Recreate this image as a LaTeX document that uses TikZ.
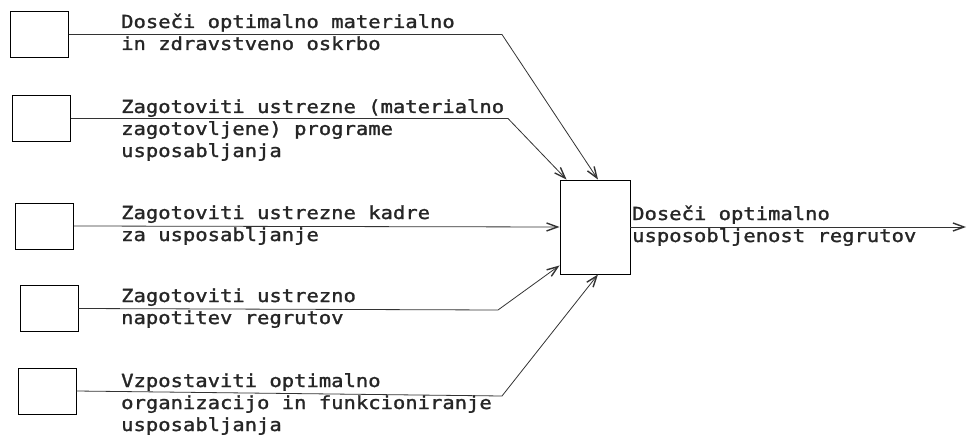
\documentclass[tikz,border=0pt]{standalone}
\usepackage{fontspec}
\newfontfamily\plotfont[FakeStretch=1.14, FakeBold=1.5]{DejaVu Sans Mono}
\usetikzlibrary{arrows.meta,calc}

\tikzset{
	box/.style={draw, line width=0.9pt, minimum width=58pt, minimum height=46pt, inner sep=0pt},
	lbl/.style={anchor=base west, align=left, inner sep=0pt, font=\plotfont\fontsize{18}{22}\selectfont, text=black!85},
	feed/.style={line width=0.8pt, draw=black!80, -{Straight Barb[length=11pt,width=8pt,line width=1.4pt]}}
}

\begin{document}
\begin{tikzpicture}[x=1pt, y=-1pt]
				\useasboundingbox (0,0) rectangle (967,436);
				\node[box] (b1) at (39.5,34.5) {};
				\node[box] (b2) at (41.5,118.5) {};
				\node[box] (b3) at (44.5,226) {};
				\node[box] (b4) at (49,308.5) {};
				\node[box] (b5) at (47,391) {};
				\node[box, minimum width=70pt, minimum height=94pt] (mid) at (595,227) {};
				\node[lbl] (t1) at (121,50) {Doseči optimalno materialno\\in zdravstveno oskrbo};
				\node[lbl] (t2) at (121,157) {Zagotoviti ustrezne (materialno\\zagotovljene) programe\\usposabljanja};
				\node[lbl] (t3) at (121,241) {Zagotoviti ustrezne kadre\\za usposabljanje};
				\node[lbl] (t4) at (121,324) {Zagotoviti ustrezno\\napotitev regrutov};
				\node[lbl] (t5) at (121,431) {Vzpostaviti optimalno\\organizacijo in funkcioniranje\\usposabljanja};
				\node[lbl] (res) at (632,242) {Doseči optimalno\\usposobljenost regrutov};
				\coordinate (k1) at (502,34.5);
				\coordinate (k2) at (508,118.5);
				\coordinate (k4) at (498,310);
				\coordinate (k5) at (502,396);
				\coordinate (end) at (966,227);
				\draw[feed] (b1.east) -- (k1) -- ($(mid.north)+(3,0)$);
				\draw[feed] (b2.east) -- (k2) -- ($(mid.north west)+(7,0)$);
				\draw[feed] (b3.east) -- (mid.west);
				\draw[feed] (b4.east) -- (k4) -- ($(mid.south west)+(0,-9)$);
				\draw[feed] (b5.east) -- (k5) -- ($(mid.south)+(3,0)$);
				\draw[feed] (mid.east) -- (end);
			\end{tikzpicture}
\end{document}
